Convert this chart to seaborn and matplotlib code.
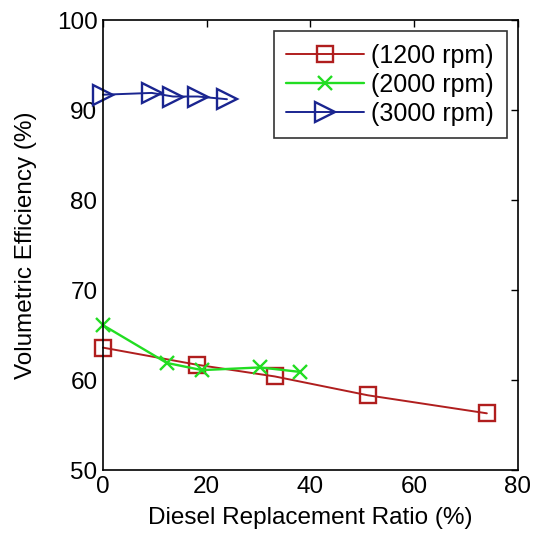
import numpy as np
import pandas as pd
import seaborn as sns
import matplotlib
matplotlib.use('Agg')
import matplotlib.pylab as plt

# data
x_1200 = [0, 18.1, 33.1, 51.1, 74.0]
y_1200 = [63.6, 61.7, 60.4, 58.3, 56.3]
x_2000 = [0, 12.3, 19.1, 30.3, 38.0]
y_2000 = [66.1, 61.9, 61.1, 61.4, 60.9]
x_3000 = [0, 9.4, 13.5, 18.3, 23.9]
y_3000 = [91.7, 91.9, 91.5, 91.5, 91.2]

sns.set_style('white')
plt.rcParams['font.family'] = ['Liberation Sans', 'DejaVu Sans']
plt.rcParams['text.color'] = 'black'
plt.rcParams['axes.labelcolor'] = 'black'
plt.rcParams['xtick.color'] = 'black'
plt.rcParams['ytick.color'] = 'black'

fig = plt.figure(figsize=(5.33, 5.41), dpi=100)
ax = fig.add_axes([0.1932, 0.1312, 0.7786, 0.8318])

red, green, blue = '#b01e1e', '#22dd22', '#1a2590'
sns.lineplot(x=x_1200, y=y_1200, ax=ax, color=red, marker='s', markersize=12,
             markerfacecolor='none', markeredgecolor=red, markeredgewidth=1.7,
             linewidth=1.4, label='(1200 rpm)', clip_on=False)
sns.lineplot(x=x_2000, y=y_2000, ax=ax, color=green, marker='x', markersize=10,
             markeredgecolor=green, markeredgewidth=1.7, linewidth=1.7,
             label='(2000 rpm)', clip_on=False)
sns.lineplot(x=x_3000, y=y_3000, ax=ax, color=blue, marker='>', markersize=15,
             markerfacecolor='none', markeredgecolor=blue, markeredgewidth=1.7,
             linewidth=1.4, label='(3000 rpm)', clip_on=False)

fs = 17.5
ax.set_xlim(0, 80)
ax.set_ylim(50, 100)
ax.set_xticks([0, 20, 40, 60, 80])
ax.set_yticks([50, 60, 70, 80, 90, 100])
ax.tick_params(direction='in', top=True, right=True, labelsize=fs, length=5, width=1, pad=4)
for s in ax.spines.values():
    s.set_linewidth(1.2)
    s.set_color('black')
ax.set_xlabel('Diesel Replacement Ratio (%)', fontsize=fs, labelpad=7)
ax.set_ylabel('Volumetric Efficiency (%)', fontsize=fs, labelpad=14)

leg = ax.legend(loc='upper right', fontsize=18, frameon=True, fancybox=False,
                edgecolor='black', borderaxespad=0.45, handlelength=3.1,
                handletextpad=0.3, borderpad=0.5, labelspacing=0.2)
leg.get_frame().set_linewidth(1.2)

fig.savefig('out.png', dpi=100)
